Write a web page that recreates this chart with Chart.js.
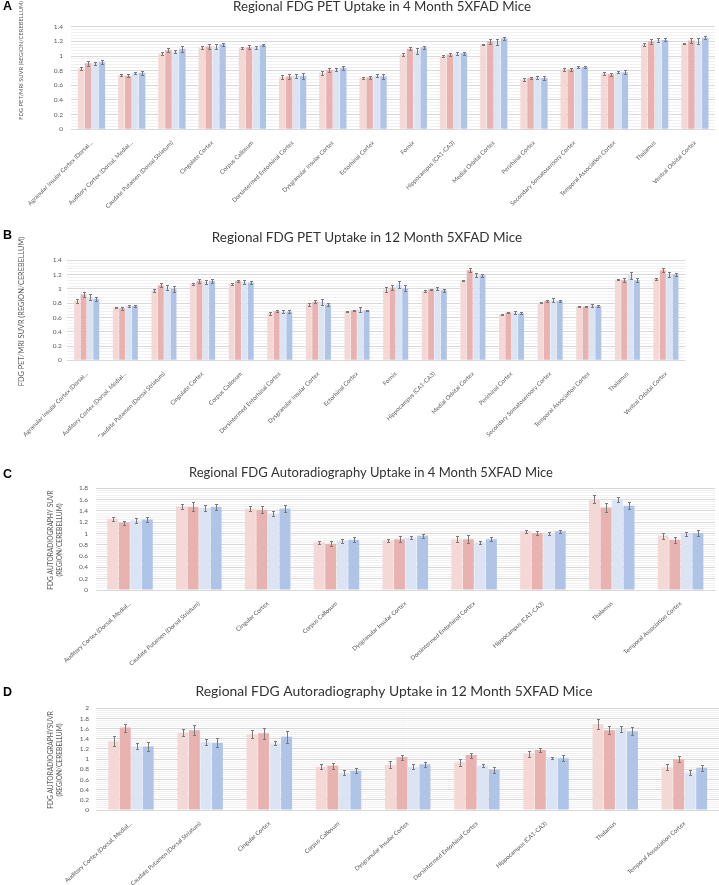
<!DOCTYPE html>
<html>
<head>
<meta charset="utf-8">
<script src="https://cdn.jsdelivr.net/npm/chart.js@4.4.0/dist/chart.umd.min.js"></script>
<style>
  html, body { margin: 0; padding: 0; background: #fff; overflow: hidden; }
  #page { position: relative; width: 719px; height: 885px; overflow: hidden; }
  canvas { position: absolute; left: 0; }
  .letter { position: absolute; left: 3px; font: bold 12.5px "Liberation Sans", Arial, sans-serif; color: #000; line-height: 1; }
</style>
</head>
<body>
<div id="page">
  <canvas id="chart-a" width="719" height="214" style="top:-2px"></canvas>
  <canvas id="chart-b" width="719" height="215" style="top:222px"></canvas>
  <canvas id="chart-c" width="719" height="230" style="top:450px"></canvas>
  <canvas id="chart-d" width="719" height="213" style="top:672px"></canvas>
  <div class="letter" style="top:0px">A</div>
  <div class="letter" style="top:229px">B</div>
  <div class="letter" style="top:468px">C</div>
  <div class="letter" style="top:686px">D</div>
</div>
<script>
// regions
const petRegions = [
    'Agranular Insular Cortex (Dorsal…', 'Auditory Cortex (Dorsal, Medial…', 'Caudate Putamen (Dorsal Striatum)',
    'Cingulate Cortex', 'Corpus Callosum', 'Dorsintermed Entorhinal Cortex', 'Dysgranular Insular Cortex',
    'Ectorhinal Cortex', 'Fornix', 'Hippocampus (CA1-CA3)', 'Medial Orbital Cortex', 'Perirhinal Cortex',
    'Secondary Somatosensory Cortex', 'Temporal Association Cortex', 'Thalamus', 'Ventral Orbital Cortex',
];
const arRegions = [
    'Auditory Cortex (Dorsal, Medial…', 'Caudate Putamen (Dorsal Striatum)', 'Cingular Cortex', 'Corpus Callosum',
    'Dysgranular Insular Cortex', 'Dorsintermed Entorhinal Cortex', 'Hippocampus (CA1-CA3)', 'Thalamus',
    'Temporal Association Cortex',
];

// A: PET, 4 months (4 groups, mean and error)
const pet4m1 = [0.83, 0.74, 1.03, 1.12, 1.11, 0.71, 0.77, 0.70, 1.02, 1.00, 1.16, 0.68, 0.82, 0.76, 1.16, 1.17];
const pet4m2 = [0.90, 0.73, 1.08, 1.13, 1.12, 0.72, 0.81, 0.71, 1.10, 1.02, 1.20, 0.70, 0.82, 0.75, 1.20, 1.21];
const pet4m3 = [0.90, 0.77, 1.06, 1.13, 1.12, 0.73, 0.82, 0.73, 1.07, 1.03, 1.19, 0.71, 0.85, 0.78, 1.22, 1.20];
const pet4m4 = [0.92, 0.77, 1.10, 1.16, 1.15, 0.73, 0.84, 0.72, 1.12, 1.04, 1.24, 0.70, 0.85, 0.78, 1.22, 1.25];
const pet4mErr1 = [0.02, 0.01, 0.02, 0.02, 0.01, 0.03, 0.03, 0.02, 0.02, 0.01, 0.01, 0.02, 0.02, 0.02, 0.02, 0.01];
const pet4mErr2 = [0.03, 0.02, 0.03, 0.03, 0.03, 0.03, 0.03, 0.02, 0.02, 0.02, 0.03, 0.02, 0.02, 0.02, 0.03, 0.03];
const pet4mErr3 = [0.02, 0.01, 0.02, 0.03, 0.02, 0.03, 0.02, 0.02, 0.04, 0.02, 0.04, 0.02, 0.01, 0.01, 0.03, 0.04];
const pet4mErr4 = [0.03, 0.03, 0.04, 0.02, 0.02, 0.04, 0.03, 0.03, 0.02, 0.02, 0.02, 0.03, 0.02, 0.03, 0.02, 0.02];

// B: PET, 12 months
const pet12m1 = [0.83, 0.74, 0.98, 1.07, 1.07, 0.66, 0.78, 0.68, 0.99, 0.97, 1.12, 0.64, 0.81, 0.75, 1.13, 1.14];
const pet12m2 = [0.92, 0.73, 1.05, 1.11, 1.11, 0.69, 0.82, 0.70, 1.02, 0.99, 1.26, 0.67, 0.83, 0.75, 1.12, 1.26];
const pet12m3 = [0.89, 0.76, 1.02, 1.10, 1.10, 0.68, 0.82, 0.71, 1.06, 1.00, 1.19, 0.67, 0.84, 0.77, 1.19, 1.20];
const pet12m4 = [0.86, 0.76, 1.00, 1.11, 1.09, 0.68, 0.78, 0.70, 1.01, 0.98, 1.19, 0.66, 0.83, 0.76, 1.12, 1.20];
const pet12mErr1 = [0.03, 0.01, 0.02, 0.01, 0.01, 0.02, 0.02, 0.01, 0.03, 0.01, 0.01, 0.01, 0.01, 0.01, 0.01, 0.01];
const pet12mErr2 = [0.03, 0.02, 0.03, 0.03, 0.02, 0.02, 0.02, 0.01, 0.03, 0.01, 0.03, 0.01, 0.02, 0.01, 0.03, 0.03];
const pet12mErr3 = [0.04, 0.02, 0.04, 0.03, 0.03, 0.02, 0.04, 0.03, 0.05, 0.02, 0.03, 0.02, 0.03, 0.02, 0.05, 0.03];
const pet12mErr4 = [0.03, 0.02, 0.04, 0.03, 0.02, 0.02, 0.02, 0.01, 0.04, 0.02, 0.02, 0.01, 0.01, 0.02, 0.03, 0.02];

// C: autoradiography, 4 months
const ar4m1 = [1.26, 1.48, 1.44, 0.84, 0.88, 0.90, 1.04, 1.61, 0.96];
const ar4m2 = [1.19, 1.47, 1.42, 0.82, 0.90, 0.90, 1.01, 1.46, 0.89];
const ar4m3 = [1.23, 1.45, 1.35, 0.87, 0.93, 0.84, 1.00, 1.60, 0.99];
const ar4m4 = [1.25, 1.47, 1.44, 0.89, 0.96, 0.90, 1.04, 1.49, 1.01];
const ar4mErr1 = [0.04, 0.05, 0.04, 0.03, 0.03, 0.05, 0.03, 0.07, 0.05];
const ar4mErr2 = [0.04, 0.08, 0.06, 0.05, 0.05, 0.07, 0.03, 0.08, 0.05];
const ar4mErr3 = [0.04, 0.05, 0.04, 0.04, 0.03, 0.03, 0.02, 0.05, 0.04];
const ar4mErr4 = [0.05, 0.05, 0.06, 0.04, 0.04, 0.04, 0.03, 0.06, 0.05];

// D: autoradiography, 12 months
const ar12m1 = [1.35, 1.52, 1.49, 0.85, 0.89, 0.94, 1.11, 1.69, 0.84];
const ar12m2 = [1.62, 1.57, 1.51, 0.87, 1.04, 1.08, 1.18, 1.57, 1.00];
const ar12m3 = [1.25, 1.34, 1.31, 0.73, 0.85, 0.87, 1.03, 1.59, 0.74];
const ar12m4 = [1.25, 1.32, 1.44, 0.77, 0.90, 0.79, 1.02, 1.55, 0.83];
const ar12mErr1 = [0.10, 0.07, 0.08, 0.05, 0.07, 0.07, 0.06, 0.09, 0.06];
const ar12mErr2 = [0.08, 0.10, 0.11, 0.06, 0.05, 0.05, 0.04, 0.08, 0.06];
const ar12mErr3 = [0.06, 0.06, 0.04, 0.05, 0.05, 0.03, 0.02, 0.06, 0.05];
const ar12mErr4 = [0.08, 0.09, 0.12, 0.05, 0.05, 0.06, 0.06, 0.08, 0.06];

const colors = ['#F3D8D6', '#E7B2B0', '#DBE4F3', '#B0C4E8'];
const textColor = '#595959';

// draws the +/- error whiskers on top of every bar
const errorBars = {
    id: 'errorBars',
    afterDatasetsDraw(chart) {
        const { ctx } = chart;
        const y = chart.scales.y;
        ctx.save();
        ctx.strokeStyle = '#7A7A7A';
        ctx.lineWidth = 1;
        chart.data.datasets.forEach((ds, i) => {
            chart.getDatasetMeta(i).data.forEach((bar, j) => {
                const top = Math.round(y.getPixelForValue(ds.data[j] + ds.errors[j])) + 0.5;
                const bottom = Math.round(y.getPixelForValue(ds.data[j] - ds.errors[j])) + 0.5;
                const x = Math.round(bar.x) + 0.5;
                ctx.beginPath();
                ctx.moveTo(x, top); ctx.lineTo(x, bottom);
                ctx.moveTo(x - 1.5, top); ctx.lineTo(x + 1.5, top);
                ctx.moveTo(x - 1.5, bottom); ctx.lineTo(x + 1.5, bottom);
                ctx.stroke();
            });
        });
        ctx.restore();
    },
};

// rotated y-axis caption placed like the original figure
const sideTitle = {
    id: 'sideTitle',
    afterDraw(chart, args, opts) {
        const { ctx } = chart;
        ctx.save();
        ctx.translate(opts.x, opts.y);
        ctx.rotate(-Math.PI / 2);
        ctx.font = opts.size + 'px Lato';
        ctx.fillStyle = textColor;
        ctx.textAlign = 'center';
        ctx.textBaseline = 'middle';
        opts.lines.forEach((line, i) => {
            ctx.fillText(line, 0, (i - (opts.lines.length - 1) / 2) * opts.gap);
        });
        ctx.restore();
    },
};

const isMajor = v => Math.abs(v / 0.2 - Math.round(v / 0.2)) < 1e-6;

function makeChart(id, p) {
    new Chart(document.getElementById(id), {
        type: 'bar',
        data: {
            labels: p.labels,
            datasets: p.series.map((data, i) => ({
                label: 'Group ' + (i + 1),
                data,
                errors: p.errors[i],
                backgroundColor: colors[i],
                borderWidth: 0,
                barPercentage: p.barPct,
                categoryPercentage: p.catPct,
            })),
        },
        options: {
            responsive: false,
            animation: false,
            layout: { padding: { left: p.padLeft, right: p.padRight, top: 0, bottom: 0 } },
            plugins: {
                legend: { display: false },
                tooltip: { enabled: false },
                title: {
                    display: true,
                    text: p.title,
                    color: '#333',
                    font: { family: 'Lato', size: p.titleSize, weight: 'normal', lineHeight: 1 },
                    padding: { top: p.titleTop, bottom: p.titleBottom },
                },
                sideTitle: p.side,
            },
            scales: {
                x: {
                    grid: { display: false },
                    border: { display: false },
                    ticks: {
                        autoSkip: false,
                        minRotation: p.rotation,
                        maxRotation: p.rotation,
                        padding: 2,
                        color: textColor,
                        font: { family: 'Lato', size: 6 },
                    },
                    afterFit: s => { s.height = p.xHeight; },
                },
                y: {
                    min: 0,
                    max: p.max,
                    border: { display: false },
                    grid: {
                        drawTicks: false,
                        color: c => (isMajor(c.tick.value) ? '#D9D9D9' : '#F1F1F1'),
                    },
                    ticks: {
                        stepSize: 0.04,
                        autoSkip: false,
                        padding: p.tickPad,
                        color: textColor,
                        font: { family: 'Lato', size: 6.5 },
                        callback: v => (isMajor(v) ? String(Math.round(v * 10) / 10) : ''),
                    },
                    afterFit: s => { s.width = p.yWidth; },
                },
            },
        },
        plugins: [errorBars, sideTitle],
    });
}

makeChart('chart-a', {
    labels: petRegions,
    series: [pet4m1, pet4m2, pet4m3, pet4m4],
    errors: [pet4mErr1, pet4mErr2, pet4mErr3, pet4mErr4],
    title: 'Regional FDG PET Uptake in 4 Month 5XFAD Mice',
    max: 1.4, barPct: 0.93, catPct: 0.69, rotation: 45,
    padLeft: 49, padRight: 4, yWidth: 22.4, xHeight: 82.7, tickPad: 8.5,
    titleSize: 13.3, titleTop: 2.15, titleBottom: 13.25,
    side: { lines: ['FDG PET/MRI SUVR (REGION/CEREBELLUM)'], x: 21.5, y: 62.5, size: 5.8, gap: 0 },
});

makeChart('chart-b', {
    labels: petRegions,
    series: [pet12m1, pet12m2, pet12m3, pet12m4],
    errors: [pet12mErr1, pet12mErr2, pet12mErr3, pet12mErr4],
    title: 'Regional FDG PET Uptake in 12 Month 5XFAD Mice',
    max: 1.4, barPct: 0.93, catPct: 0.66, rotation: 45,
    padLeft: 48.7, padRight: 33.7, yWidth: 18.7, xHeight: 76.7, tickPad: 5.7,
    titleSize: 13.5, titleTop: 8.55, titleBottom: 16.25,
    side: { lines: ['FDG PET/MRI SUVR (REGION/CEREBELLUM)'], x: 21.7, y: 89.5, size: 7.3, gap: 0 },
});

makeChart('chart-c', {
    labels: arRegions,
    series: [ar4m1, ar4m2, ar4m3, ar4m4],
    errors: [ar4mErr1, ar4mErr2, ar4mErr3, ar4mErr4],
    title: 'Regional FDG Autoradiography Uptake in 4 Month 5XFAD Mice',
    max: 1.8, barPct: 0.95, catPct: 0.67, rotation: 42,
    padLeft: 27, padRight: 4, yWidth: 68.6, xHeight: 90, tickPad: 7.6,
    titleSize: 13, titleTop: 16.5, titleBottom: 8.8,
    side: { lines: ['FDG AUTORADIOGRAPHY SUVR', '(REGION/CEREBELLUM)'], x: 55, y: 90, size: 6.6, gap: 9 },
});

makeChart('chart-d', {
    labels: arRegions,
    series: [ar12m1, ar12m2, ar12m3, ar12m4],
    errors: [ar12mErr1, ar12mErr2, ar12mErr3, ar12mErr4],
    title: 'Regional FDG Autoradiography Uptake in 12 Month 5XFAD Mice',
    max: 2, barPct: 0.95, catPct: 0.665, rotation: 42,
    padLeft: 69, padRight: 0, yWidth: 27.4, xHeight: 75, tickPad: 7.5,
    titleSize: 13.9, titleTop: 12.85, titleBottom: 9.55,
    side: { lines: ['FDG AUTORADIOGRAPHYSUVR', '(REGION/CEREBELLUM)'], x: 55.5, y: 88, size: 6.6, gap: 9 },
});
</script>
</body>
</html>
